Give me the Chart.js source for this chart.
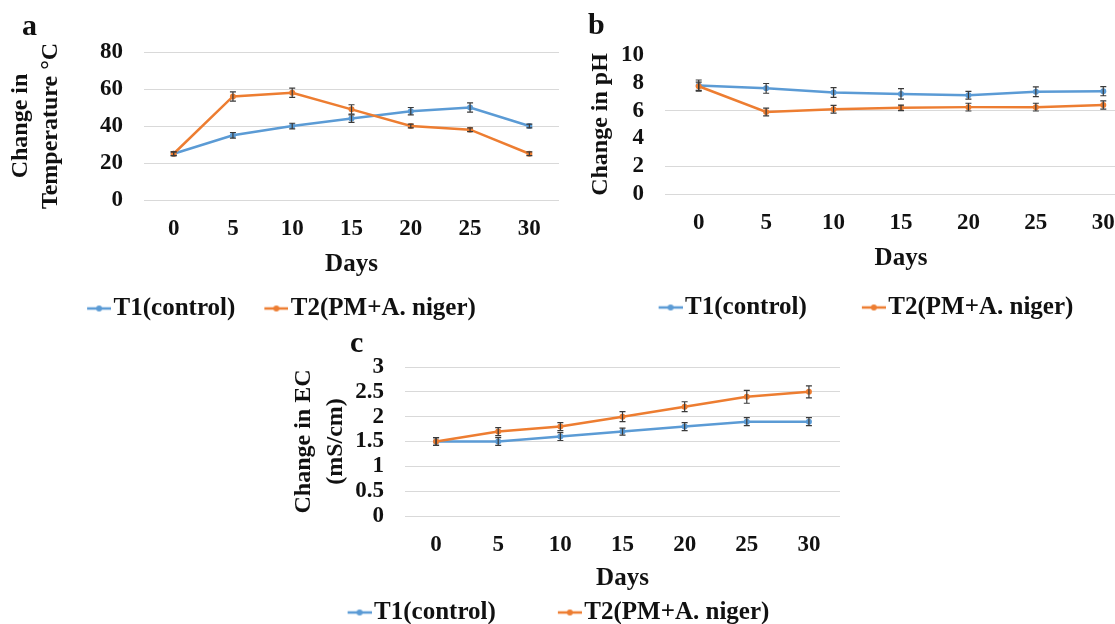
<!DOCTYPE html>
<html>
<head>
<meta charset="utf-8">
<script src="https://cdn.jsdelivr.net/npm/chart.js@4.4.1/dist/chart.umd.min.js"></script>
<style>
  html, body { margin: 0; padding: 0; width: 1115px; height: 624px; overflow: hidden; background: #fff; }
  .panel { position: absolute; }
  .tag { position: absolute; font: bold 30px 'Liberation Serif', 'Times New Roman', serif; line-height: 30px; color: #111; }
</style>
</head>
<body>
<div class="panel" style="left:0;top:0;width:590px;height:340px"><canvas id="chartTemp"></canvas></div>
<div class="panel" style="left:560px;top:0;width:600px;height:340px"><canvas id="chartPh"></canvas></div>
<div class="panel" style="left:270px;top:330px;width:600px;height:310px"><canvas id="chartEc"></canvas></div>
<div class="tag" style="left:22px;top:10px">a</div>
<div class="tag" style="left:588px;top:9px">b</div>
<div class="tag" style="left:350px;top:327px">c</div>
<script>
// data
var days = ['0', '5', '10', '15', '20', '25', '30'];
var seriesNames = ['T1(control)', 'T2(PM+A. niger)'];

var tempT1 = [25, 35, 40, 44, 48, 50, 40];
var tempT2 = [25, 56, 58, 49, 40, 38, 25];
var tempErrT1 = [1, 1.5, 1.5, 2, 2, 2.5, 1];
var tempErrT2 = [1, 2.5, 2.5, 2.5, 1, 1, 1];

var phT1 = [7.8, 7.6, 7.3, 7.2, 7.1, 7.35, 7.4];
var phT2 = [7.75, 5.9, 6.1, 6.2, 6.25, 6.25, 6.4];
var phErrT1 = [0.4, 0.35, 0.35, 0.38, 0.28, 0.35, 0.33];
var phErrT2 = [0.3, 0.28, 0.28, 0.2, 0.28, 0.28, 0.3];

var ecT1 = [1.5, 1.5, 1.6, 1.7, 1.8, 1.9, 1.9];
var ecT2 = [1.5, 1.7, 1.8, 2.0, 2.2, 2.4, 2.5];
var ecErrT1 = [0.08, 0.08, 0.08, 0.07, 0.08, 0.08, 0.08];
var ecErrT2 = [0.08, 0.08, 0.08, 0.1, 0.1, 0.13, 0.12];

// axis ranges: [min, max, step]
var tempAxis = [0, 80, 20];
var phAxis = [0, 10, 2];
var ecAxis = [0, 3, 0.5];

var blue = '#5b9bd5', orange = '#ed7d31';
var ink = '#111111', gridGrey = '#d9d9d9';
var serif = "'Liberation Serif', 'Times New Roman', serif";

Chart.defaults.font.family = serif;
Chart.defaults.color = ink;

function legendMarker(color) {
  var c = document.createElement('canvas');
  c.width = 34; c.height = 12;
  var g = c.getContext('2d');
  g.strokeStyle = color; g.lineWidth = 2.5;
  g.beginPath(); g.moveTo(10, 6); g.lineTo(34, 6); g.stroke();
  g.fillStyle = color;
  g.beginPath(); g.arc(22, 6, 3, 0, Math.PI * 2); g.fill();
  return c;
}
var markers = [legendMarker(blue), legendMarker(orange)];

var errorBars = {
  id: 'errorBars',
  afterDatasetsDraw: function(chart) {
    var ctx = chart.ctx, y = chart.scales.y;
    ctx.save();
    ctx.strokeStyle = '#3a3a3a';
    ctx.lineWidth = 1.2;
    chart.data.datasets.forEach(function(ds, i) {
      if (!ds.errors) return;
      chart.getDatasetMeta(i).data.forEach(function(pt, j) {
        var v = ds.data[j], e = ds.errors[j];
        var top = y.getPixelForValue(v + e), bot = y.getPixelForValue(v - e);
        ctx.beginPath();
        ctx.moveTo(pt.x, top); ctx.lineTo(pt.x, bot);
        ctx.moveTo(pt.x - 3, top); ctx.lineTo(pt.x + 3, top);
        ctx.moveTo(pt.x - 3, bot); ctx.lineTo(pt.x + 3, bot);
        ctx.stroke();
      });
    });
    ctx.restore();
  }
};

function makeChart(id, o) {
  return new Chart(document.getElementById(id), {
    type: 'line',
    data: {
      labels: days,
      datasets: [
        { label: seriesNames[0], data: o.t1, errors: o.e1, borderColor: blue, backgroundColor: blue, order: 2 },
        { label: seriesNames[1], data: o.t2, errors: o.e2, borderColor: orange, backgroundColor: orange, order: 1 }
      ]
    },
    options: {
      responsive: true,
      maintainAspectRatio: false,
      animation: false,
      layout: { padding: o.pad },
      elements: {
        line: { borderWidth: 2.5, tension: 0 },
        point: { radius: 3, borderWidth: 0, hoverRadius: 3 }
      },
      scales: {
        x: {
          offset: true,
          grid: { display: false, drawTicks: false },
          border: { display: false },
          ticks: { padding: 15, color: ink, font: { size: 23, weight: 'bold' } },
          title: { display: true, text: 'Days', color: ink,
                   font: { size: 25, weight: 'bold', lineHeight: 1.2 },
                   padding: { top: 0, bottom: o.xTitlePad } },
          afterFit: function(s) { s.height = o.xH; }
        },
        y: {
          min: o.axis[0], max: o.axis[1],
          grid: { color: o.gridColor || gridGrey, lineWidth: 1, drawTicks: false },
          border: { display: false },
          ticks: {
            stepSize: o.axis[2], autoSkip: false, padding: 21, color: ink,
            font: { size: 23, weight: 'bold' },
            callback: function(v) { return String(Math.round(v * 100) / 100); }
          },
          title: { display: true, text: o.yTitle, color: ink,
                   font: { size: 24, weight: 'bold', lineHeight: o.yLine },
                   padding: { top: o.yTitlePad, bottom: 0 } },
          afterFit: function(s) { s.width = o.yW; }
        }
      },
      plugins: {
        legend: {
          position: 'bottom',
          title: { display: o.legendShift !== undefined, text: '',
                   font: { size: 10, lineHeight: 1 },
                   padding: { top: o.legendShift || 0, bottom: 0 } },
          labels: {
            usePointStyle: true,
            pointStyleWidth: 14,
            padding: o.gap,
            color: ink,
            font: { size: 25, weight: 'bold' },
            sort: function(a, b) { return a.datasetIndex - b.datasetIndex; },
            generateLabels: function(chart) {
              var items = Chart.defaults.plugins.legend.labels.generateLabels(chart);
              items.forEach(function(it) { it.pointStyle = markers[it.datasetIndex]; });
              return items;
            }
          }
        },
        tooltip: { enabled: false }
      }
    },
    plugins: [errorBars]
  });
}

// a: temperature
makeChart('chartTemp', {
  t1: tempT1, t2: tempT2, e1: tempErrT1, e2: tempErrT2, axis: tempAxis,
  pad: { left: 4, top: 52, right: 31, bottom: 9 },
  yW: 140, yTitle: ['Change in', 'Temperature \u00B0C'], yLine: 1.25, yTitlePad: 2,
  xH: 67, xTitlePad: -13, gap: 29
});

// b: pH
makeChart('chartPh', {
  t1: phT1, t2: phT2, e1: phErrT1, e2: phErrT2, axis: phAxis,
  pad: { left: 35, top: 55, right: 23, bottom: 10 },
  yW: 70, yTitle: 'Change in pH', yLine: 1.25, yTitlePad: -9,
  xH: 46, xTitlePad: -34, gap: 55,
  gridColor: function(c) { return [0, 2, 6].indexOf(c.tick && c.tick.value) >= 0 ? gridGrey : 'rgba(0,0,0,0)'; }
});

// c: EC
makeChart('chartEc', {
  t1: ecT1, t2: ecT2, e1: ecErrT1, e2: ecErrT2, axis: ecAxis,
  pad: { left: 7, top: 37, right: 30, bottom: 5 },
  yW: 128, yTitle: ['Change in EC', '(mS/cm)'], yLine: 1.333, yTitlePad: 11,
  xH: 40, xTitlePad: -38, gap: 62, legendShift: -28
});
</script>
</body>
</html>
